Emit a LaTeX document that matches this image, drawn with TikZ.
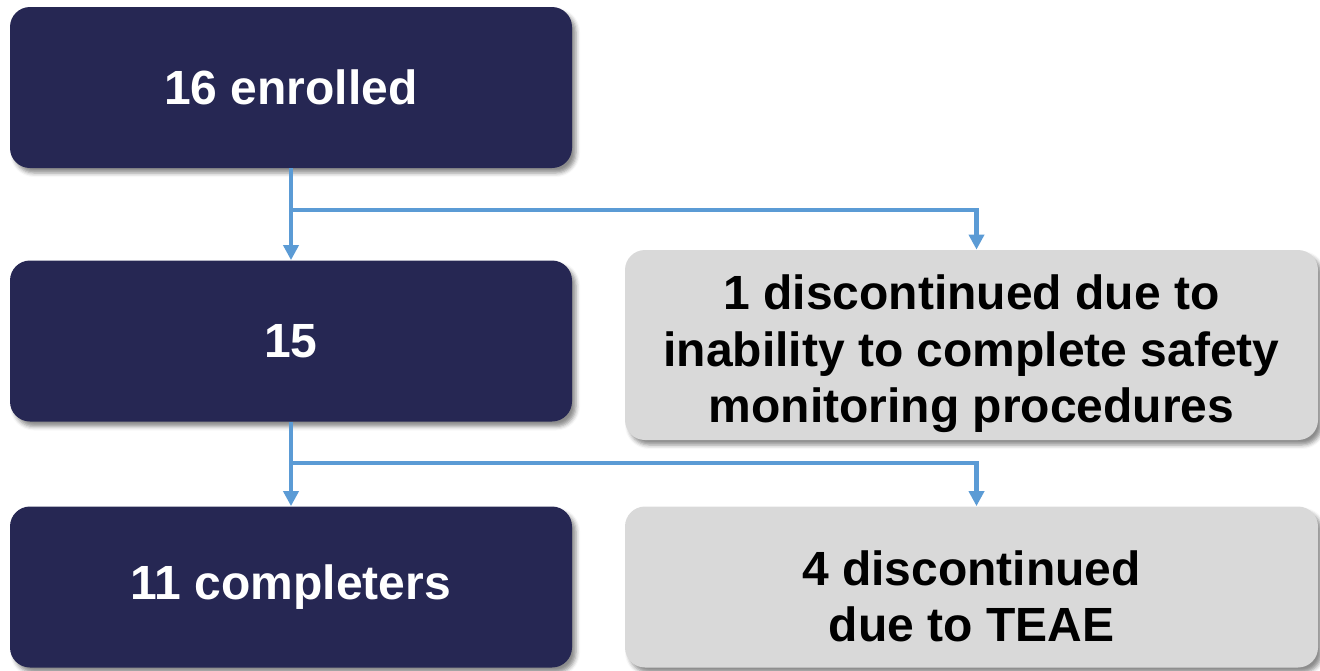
\documentclass[tikz,border=0pt]{standalone}
\usepackage{fontspec}
\setmainfont{Liberation Sans}
\usetikzlibrary{shapes,arrows.meta,shadows.blur}
\definecolor{navy}{HTML}{262753}
\definecolor{lightgrey}{HTML}{D9D9D9}
\definecolor{flowblue}{HTML}{5B9BD5}

\begin{document}
\begin{tikzpicture}[x=0.5pt,y=-0.5pt,
  darkbox/.style={shape=rectangle,rounded corners=10pt,fill=navy,text=white,align=center,
    minimum width=281pt,minimum height=80.5pt,font=\fontsize{24}{28.25}\selectfont\bfseries,
    blur shadow={shadow xshift=2pt,shadow yshift=-2.5pt,shadow blur radius=2pt,shadow opacity=45}},
  greybox/.style={darkbox,fill=lightgrey,text=black,minimum width=346.5pt,inner ysep=0pt},
  flow/.style={-{Triangle[width=7.5pt,length=7.5pt]},draw=flowblue,line width=2.2pt}]
\useasboundingbox (0,0) rectangle (1320,670);
\node[darkbox] (0) at (291,87.5) {16 enrolled};
\node[darkbox] (1) at (291,341) {15};
\node[darkbox] (2) at (291,587) {11 completers};
\node[greybox,minimum height=95pt] (3) at (971.5,345) {\rule{0pt}{26.5pt}1 discontinued due to\\inability to complete safety\\monitoring procedures};
\node[greybox] (4) at (971.5,587) {\rule{0pt}{26.5pt}4 discontinued\\due to TEAE};

\coordinate (j0) at (291,210);
\coordinate (j1) at (291,463);

\draw[flow] (0) -- (1);
\draw[flow] (j0) -| ([xshift=2.5pt]3.north);
\draw[flow] (1) -- (2);
\draw[flow] (j1) -| ([xshift=2.5pt]4.north);
\end{tikzpicture}
\end{document}
